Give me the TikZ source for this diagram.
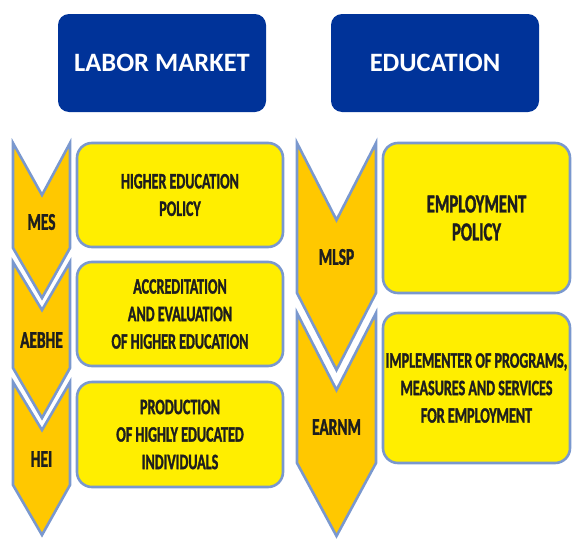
\documentclass[tikz,border=0pt]{standalone}
\usepackage{fontspec}
\setmainfont{Carlito}[BoldFont={Carlito Bold}]
\newfontfamily\condfont{Carlito Bold}[FakeStretch=0.64,FakeBold=1.3]
\newfontfamily\hdrfont{Carlito Bold}
\definecolor{hdrblue}{RGB}{0,51,153}
\definecolor{boxyellow}{RGB}{255,238,0}
\definecolor{chevgold}{RGB}{255,200,0}
\definecolor{edgeblue}{RGB}{122,152,206}
\definecolor{inktext}{RGB}{30,30,30}
\tikzset{
  header/.style={fill=hdrblue, rounded corners=11pt, minimum width=208pt, minimum height=98pt,
    inner sep=0pt, text=white, font=\hdrfont\fontsize{26.5}{30}\selectfont},
  infobox/.style={fill=boxyellow, draw=edgeblue, line width=2.6pt, rounded corners=15pt,
    inner sep=0pt, align=center, text=inktext,
    font=\condfont\fontsize{22}{27.5}\selectfont},
  chev/.style={fill=chevgold, draw=edgeblue, line width=2.6pt, line join=miter},
  chevlabel/.style={inner sep=0pt, text=inktext, font=\condfont\fontsize{24}{28}\selectfont}
}
\begin{document}
\begin{tikzpicture}[x=1pt,y=-1pt]
\useasboundingbox (0,0) rectangle (572,538);
% headers
\node[header] (labor) at (162,63) {LABOR MARKET};
\node[header] (educ) at (435,63) {EDUCATION};
% left chevrons
\draw[chev] (13,143) -- (42,195) -- (70,143) -- (70,248) -- (42,298) -- (13,248) -- cycle;
\draw[chev] (13,262) -- (42,310) -- (70,262) -- (70,368) -- (42,418) -- (13,368) -- cycle;
\draw[chev] (13,382) -- (42,430) -- (70,382) -- (70,485) -- (42,535) -- (13,485) -- cycle;
\node[chevlabel] (mes) at (41.5,222) {MES};
\node[chevlabel] (aebhe) at (41.5,340) {AEBHE};
\node[chevlabel] (hei) at (41.5,459) {HEI};
% right chevrons
\draw[chev] (297,143) -- (336.5,220) -- (376,143) -- (376,293) -- (336.5,370) -- (297,293) -- cycle;
\draw[chev] (297,313) -- (336.5,390) -- (376,313) -- (376,463) -- (336.5,536) -- (297,463) -- cycle;
\node[chevlabel] (mlsp) at (336.5,257) {MLSP};
\node[chevlabel] (earnm) at (336.5,427) {EARNM};
% left boxes
\node[infobox, minimum width=206pt, minimum height=104pt] (hep) at (180,195) {HIGHER EDUCATION\\POLICY};
\node[infobox, minimum width=206pt, minimum height=104pt] (acc) at (180,314) {ACCREDITATION\\AND EVALUATION\\OF HIGHER EDUCATION};
\node[infobox, minimum width=206pt, minimum height=105pt] (prod) at (180,434.5) {PRODUCTION\\OF HIGHLY EDUCATED\\INDIVIDUALS};
% right boxes
\node[infobox, minimum width=187pt, minimum height=150pt, font=\condfont\fontsize{26}{28}\selectfont] (emp) at (476.5,218) {EMPLOYMENT\\POLICY};
\node[infobox, minimum width=187pt, minimum height=150pt] (impl) at (476.5,388) {IMPLEMENTER OF PROGRAMS,\\MEASURES AND SERVICES\\FOR EMPLOYMENT};
\end{tikzpicture}
\end{document}
